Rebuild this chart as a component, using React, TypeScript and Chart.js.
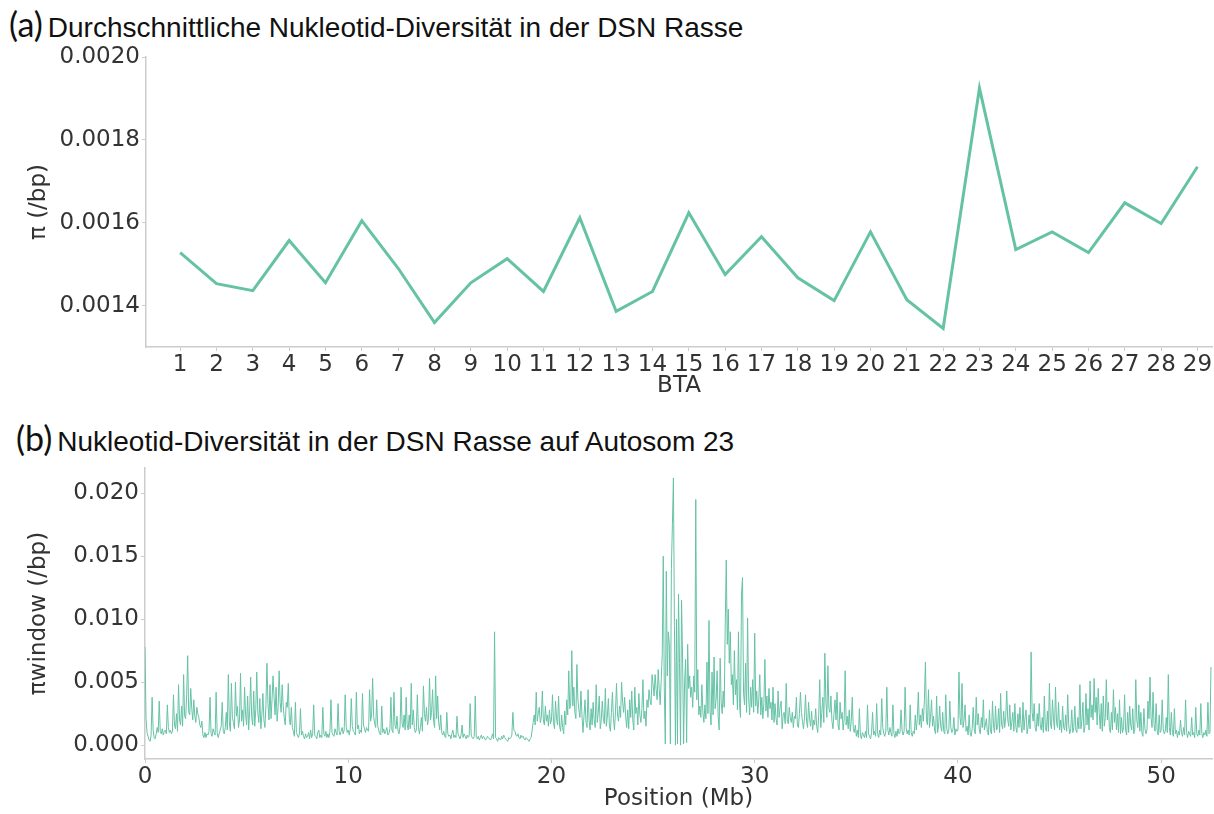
import React, { useEffect, useRef } from "react";
import { Chart, registerables } from "chart.js";

Chart.register(...registerables);

// ---------- Panel (a): mean nucleotide diversity per autosome ----------
const BTA = ["1","2","3","4","5","6","7","8","9","10","11","12","13","14","15","16","17","18","19","20","21","22","23","24","25","26","27","28","29"];
const PI_MEAN = [
  0.001528, 0.001453, 0.001436, 0.001557, 0.001455, 0.001605, 0.001490, 0.001359, 0.001455, 0.001513,
  0.001434, 0.001612, 0.001386, 0.001434, 0.001624, 0.001475, 0.001566, 0.001467, 0.001412, 0.001578,
  0.001414, 0.001345, 0.001925, 0.001535, 0.001578, 0.001528, 0.001648, 0.001598, 0.001735,
];
const TICKS_A = [0.0014, 0.0016, 0.0018, 0.002];

// ---------- Panel (b): windowed diversity along BTA 23 ----------
const WINDOW_MB = 0.05;
// values in units of 0.001 (/bp), one per 0.05 Mb window (one row = 1 Mb)
const PI_WINDOW_PERMILLE = [
  7.8, 2.1, 1.0, 0.7, 0.4, 0.3, 0.8, 3.8, 1.2, 0.6, 0.5, 0.9, 1.4, 1.0, 3.5, 1.1, 0.9, 1.3, 0.8, 1.1,
  1.2, 0.9, 3.2, 1.4, 1.0, 1.2, 0.9, 1.1, 4.0, 1.6, 1.3, 2.5, 1.1, 4.8, 2.0, 1.6, 3.1, 1.5, 5.6, 2.3,
  2.1, 4.0, 7.1, 2.6, 2.4, 4.5, 2.9, 2.0, 3.6, 2.3, 1.8, 3.0, 2.5, 2.2, 1.6, 1.4, 1.9, 0.8, 0.6, 1.0,
  0.6, 0.9, 0.8, 1.1, 3.8, 0.9, 0.7, 1.3, 1.0, 0.8, 4.2, 1.0, 0.6, 0.9, 1.2, 1.5, 3.4, 1.1, 0.9, 1.4,
  2.6, 1.2, 5.6, 1.8, 1.1, 4.9, 2.2, 1.8, 1.3, 5.0, 2.3, 3.1, 1.4, 2.0, 5.7, 1.9, 2.8, 1.5, 4.6, 2.4,
  1.6, 3.9, 1.2, 2.7, 5.4, 2.2, 1.6, 4.3, 1.5, 2.8, 5.8, 2.6, 1.8, 3.7, 1.3, 2.4, 4.1, 2.0, 1.4, 3.2,
  6.5, 3.3, 2.0, 4.8, 2.1, 3.6, 5.5, 3.8, 2.4, 4.6, 1.9, 3.0, 5.9, 3.4, 2.6, 4.8, 3.1, 2.2, 1.6, 3.4,
  3.0, 4.9, 2.1, 1.6, 3.0, 1.4, 1.1, 0.7, 3.4, 1.0, 0.8, 0.6, 0.9, 2.9, 0.8, 1.1, 0.7, 0.5, 0.9, 0.6,
  0.7, 1.0, 0.5, 1.2, 0.6, 0.9, 3.2, 0.8, 0.7, 0.5, 1.0, 1.2, 0.6, 0.8, 0.6, 3.0, 0.9, 0.7, 1.1, 0.6,
  0.9, 0.6, 1.1, 3.6, 1.0, 0.8, 0.7, 1.3, 1.0, 0.8, 3.3, 1.1, 0.8, 1.1, 1.4, 0.9, 1.2, 4.0, 1.5, 1.0,
  1.2, 0.8, 1.3, 3.7, 1.5, 1.1, 1.0, 0.8, 4.2, 1.3, 1.6, 0.9, 1.2, 1.0, 4.1, 1.6, 1.3, 1.0, 1.4, 1.2,
  1.1, 4.4, 1.9, 2.4, 5.3, 2.3, 1.7, 1.4, 3.6, 1.5, 1.2, 0.9, 0.8, 3.1, 1.0, 1.3, 0.9, 1.1, 1.4, 0.8,
  0.9, 1.3, 3.8, 1.2, 1.0, 4.2, 1.6, 1.3, 2.3, 1.1, 0.9, 1.5, 4.6, 1.7, 1.4, 2.4, 1.2, 3.8, 1.6, 1.2,
  2.4, 1.3, 4.9, 1.6, 2.8, 1.4, 1.0, 1.2, 4.0, 1.5, 0.9, 1.4, 2.2, 1.1, 4.7, 2.5, 1.9, 3.0, 1.6, 2.1,
  5.3, 2.0, 2.6, 4.4, 1.9, 1.4, 5.5, 2.1, 3.9, 1.8, 1.2, 2.4, 1.0, 0.8, 1.1, 0.7, 0.6, 2.6, 0.9, 0.7,
  0.8, 0.5, 0.9, 1.2, 0.6, 0.8, 0.6, 2.3, 0.9, 0.7, 0.5, 0.8, 1.6, 0.6, 0.9, 0.7, 0.5, 0.8, 0.6, 0.7,
  3.3, 0.8, 0.6, 0.5, 0.7, 3.9, 0.6, 0.5, 0.7, 0.4, 0.6, 0.8, 0.5, 0.7, 0.6, 0.4, 0.5, 0.7, 0.6, 0.5,
  0.4, 0.6, 0.9, 0.5, 9.0, 0.6, 0.5, 0.3, 0.6, 0.5, 0.4, 0.7, 0.5, 0.8, 0.6, 0.5, 0.4, 0.3, 0.6, 0.5,
  0.6, 0.8, 2.6, 1.2, 1.1, 0.8, 0.7, 0.9, 0.6, 0.5, 0.8, 0.6, 0.7, 0.5, 0.4, 0.6, 0.5, 0.4, 0.3, 0.5,
  0.6, 1.2, 1.8, 2.4, 1.6, 4.2, 1.9, 2.5, 3.0, 1.8, 2.2, 4.3, 2.0, 1.6, 3.1, 1.9, 2.4, 1.5, 2.8, 1.7,
  2.0, 4.0, 1.8, 1.3, 3.5, 2.1, 1.6, 3.9, 1.5, 1.1, 2.4, 1.4, 0.9, 2.7, 1.6, 3.6, 2.4, 5.9, 2.9, 3.4,
  7.5, 3.1, 4.6, 2.6, 2.1, 6.4, 3.6, 2.8, 2.2, 4.3, 2.4, 1.0, 2.3, 3.6, 1.8, 1.4, 4.4, 2.0, 1.2, 2.9,
  1.6, 3.4, 2.0, 1.4, 4.8, 1.8, 2.5, 3.9, 1.3, 2.0, 3.5, 2.1, 1.7, 4.5, 1.5, 2.3, 3.7, 1.6, 1.1, 2.6,
  4.2, 2.1, 1.2, 2.7, 4.9, 2.4, 1.9, 3.1, 2.2, 5.0, 3.4, 2.6, 3.8, 2.3, 1.4, 2.8, 1.3, 3.6, 2.2, 4.3,
  2.0, 1.2, 4.6, 2.5, 3.0, 1.6, 4.1, 2.4, 1.8, 2.9, 5.2, 2.1, 2.7, 1.5, 3.6, 3.0, 4.4, 3.6, 3.2, 5.6,
  4.8, 3.9, 5.6, 4.4, 3.6, 6.0, 4.5, 3.2, 5.2, 7.2, 15.0, 4.6, 0.1, 13.8, 5.5, 9.0, 8.0, 0.1, 14.0, 17.5,
  21.2, 9.5, 0.0, 10.0, 0.1, 12.0, 6.5, 0.0, 11.5, 7.0, 0.1, 5.0, 6.8, 0.2, 8.0, 4.5, 5.5, 3.8, 4.6, 3.0,
  5.5, 4.2, 19.5, 3.6, 6.0, 2.4, 3.1, 2.2, 4.8, 2.6, 1.8, 3.2, 2.1, 6.6, 2.5, 9.9, 2.8, 1.6, 5.8, 2.4,
  7.0, 2.9, 3.6, 5.9, 2.3, 1.2, 6.9, 3.4, 2.5, 4.3, 3.0, 9.6, 14.7, 8.0, 10.8, 6.5, 9.0, 4.8, 5.6, 3.2,
  7.5, 4.0, 5.2, 2.8, 9.0, 3.3, 2.2, 12.0, 13.3, 4.1, 3.2, 6.5, 2.6, 10.1, 3.8, 2.4, 4.6, 3.0, 5.2, 2.6,
  8.9, 3.1, 4.3, 2.5, 3.6, 5.6, 2.4, 3.8, 2.1, 3.3, 6.8, 2.7, 3.9, 2.2, 4.5, 2.9, 3.4, 2.0, 4.6, 1.8,
  3.3, 2.1, 1.6, 4.3, 2.2, 3.0, 3.5, 1.3, 2.4, 2.6, 1.7, 4.9, 2.0, 1.7, 3.0, 2.2, 1.8, 2.6, 1.4, 2.3,
  2.1, 3.8, 1.6, 1.4, 2.5, 4.2, 2.6, 1.9, 1.3, 2.2, 4.0, 1.9, 1.4, 3.4, 2.1, 1.5, 2.7, 1.2, 2.0, 1.6,
  2.9, 1.5, 1.0, 2.4, 5.2, 1.4, 2.6, 3.8, 1.8, 7.3, 3.5, 2.2, 6.3, 2.9, 2.6, 3.9, 1.9, 1.3, 2.5, 3.6,
  2.0, 4.2, 1.6, 1.2, 3.4, 2.1, 2.6, 1.2, 2.0, 5.9, 1.6, 2.3, 1.3, 2.8, 1.1, 1.9, 3.8, 1.3, 1.0, 1.6,
  0.7, 1.2, 0.6, 2.9, 0.8, 0.5, 1.0, 0.8, 0.6, 1.1, 0.6, 3.2, 0.9, 0.7, 0.5, 1.0, 2.6, 0.8, 1.1, 0.7,
  3.3, 0.9, 0.6, 1.2, 0.8, 3.7, 1.4, 0.9, 0.7, 1.1, 4.6, 1.2, 0.8, 1.4, 1.0, 0.7, 3.2, 0.9, 0.6, 1.1,
  0.7, 1.3, 0.9, 1.0, 2.8, 1.2, 0.8, 1.1, 4.6, 1.4, 0.9, 1.2, 0.8, 3.2, 1.0, 0.7, 1.1, 0.9, 2.4, 1.2,
  2.1, 4.2, 1.6, 2.4, 1.4, 2.9, 1.9, 3.6, 6.6, 2.0, 1.6, 4.4, 1.4, 2.2, 3.6, 1.5, 2.3, 1.2, 0.9, 3.9,
  1.0, 1.6, 3.1, 1.5, 1.1, 2.6, 1.1, 0.9, 4.0, 1.3, 0.9, 1.2, 3.5, 1.4, 1.0, 1.2, 2.2, 0.8, 1.3, 1.1,
  1.2, 5.8, 2.2, 1.6, 4.9, 1.4, 2.0, 3.2, 1.1, 1.5, 0.8, 2.4, 1.0, 0.7, 1.3, 3.0, 1.3, 0.9, 3.8, 1.6,
  2.5, 1.2, 0.9, 2.2, 1.4, 3.6, 1.2, 1.6, 2.1, 1.0, 0.8, 2.8, 1.1, 0.9, 3.5, 1.5, 1.0, 3.1, 1.2, 1.4,
  2.9, 1.0, 4.1, 1.6, 1.3, 2.7, 1.4, 2.2, 4.3, 2.0, 1.5, 3.2, 1.2, 1.8, 2.6, 1.1, 3.3, 1.4, 1.0, 2.5,
  1.4, 3.0, 1.6, 1.0, 3.4, 1.2, 2.2, 2.8, 0.9, 1.4, 2.4, 1.3, 7.4, 2.6, 1.9, 3.3, 1.4, 1.1, 2.5, 1.5,
  3.3, 1.6, 1.2, 2.2, 1.0, 3.9, 1.4, 1.1, 2.7, 1.1, 4.9, 1.7, 1.3, 3.6, 2.1, 1.2, 4.6, 1.8, 1.4, 3.4,
  1.2, 2.0, 1.0, 3.1, 1.4, 1.2, 2.4, 1.1, 4.0, 1.6, 0.9, 1.3, 2.8, 1.0, 1.4, 3.1, 1.2, 1.0, 2.2, 1.3,
  4.8, 1.3, 2.0, 3.4, 1.0, 1.5, 4.1, 1.6, 2.9, 1.2, 5.1, 2.2, 3.2, 2.0, 5.3, 2.6, 3.8, 1.6, 4.5, 2.6,
  1.3, 3.3, 1.1, 3.9, 1.5, 2.2, 5.2, 2.0, 3.4, 1.4, 1.0, 2.6, 1.2, 4.4, 1.8, 3.0, 1.2, 2.5, 1.0, 3.6,
  0.9, 2.2, 1.0, 1.4, 4.0, 1.2, 0.8, 2.6, 1.0, 3.1, 1.6, 1.2, 2.9, 0.9, 1.2, 5.2, 2.0, 1.4, 3.2, 1.1,
  2.6, 1.0, 0.7, 2.9, 1.3, 0.9, 1.2, 3.5, 2.1, 5.4, 2.2, 1.4, 4.2, 1.6, 1.1, 3.3, 1.2, 0.8, 2.4, 1.0,
  1.2, 3.6, 1.3, 0.9, 1.1, 2.2, 1.0, 5.6, 1.4, 0.8, 2.6, 1.0, 0.7, 2.9, 0.9, 1.2, 0.6, 1.1, 0.8, 2.0,
  1.0, 0.7, 1.4, 0.8, 3.6, 1.0, 0.6, 1.1, 0.9, 0.7, 2.2, 0.8, 1.0, 0.6, 3.0, 0.9, 0.7, 1.2, 0.8, 3.3,
  0.9, 0.6, 1.0, 0.8, 1.2, 0.7, 3.4, 0.9, 1.0, 6.2,
];
const POS_TICKS = [0, 10, 20, 30, 40, 50];
const TICKS_B = [0, 0.005, 0.01, 0.015, 0.02];

const LINE_COLOR = "#66c2a5";
const TEXT_COLOR = "#333333";
const AXIS_COLOR = "#cccccc";
const TICK_FONT = { family: "'DejaVu Sans', sans-serif", size: 23 };

function axisCommon() {
  return {
    grid: { drawOnChartArea: false, drawTicks: true, tickLength: 4, color: AXIS_COLOR, lineWidth: 1 },
    border: { display: true, color: AXIS_COLOR, width: 1.5 },
  };
}

function ChartA() {
  const ref = useRef<HTMLCanvasElement | null>(null);
  useEffect(() => {
    const chart = new Chart(ref.current as HTMLCanvasElement, {
      type: "line",
      data: {
        datasets: [
          {
            data: BTA.map((b, i) => ({ x: Number(b), y: PI_MEAN[i] })),
            borderColor: LINE_COLOR,
            borderWidth: 3,
            pointRadius: 0,
            tension: 0,
          },
        ],
      },
      options: {
        animation: false,
        responsive: false,
        devicePixelRatio: 1,
        layout: { padding: { top: 17, right: 2, left: 0, bottom: 0 } },
        plugins: { legend: { display: false }, tooltip: { enabled: false }, title: { display: false } },
        scales: {
          x: {
            type: "linear",
            min: 0.06,
            max: 29.4,
            ...axisCommon(),
            afterBuildTicks: (s: any) => { s.ticks = BTA.map((b) => ({ value: Number(b) })); },
            afterFit: (s: any) => { s.height = 53; },
            ticks: { autoSkip: false, maxRotation: 0, padding: 0, color: TEXT_COLOR, font: TICK_FONT, callback: (v: any) => String(v) },
            title: { display: true, text: "BTA", color: TEXT_COLOR, font: TICK_FONT, padding: { top: 0, bottom: 0 } },
          },
          y: {
            type: "linear",
            min: 0.0013,
            max: 0.002,
            ...axisCommon(),
            afterBuildTicks: (s: any) => { s.ticks = TICKS_A.map((v) => ({ value: v })); },
            afterFit: (s: any) => { s.width = 146; },
            ticks: { padding: 2, color: TEXT_COLOR, font: TICK_FONT, callback: (v: any) => Number(v).toFixed(4) },
            title: { display: true, text: "π (/bp)", color: TEXT_COLOR, font: TICK_FONT, padding: { top: 25, bottom: 0 } },
          },
        },
      } as any,
    });
    return () => chart.destroy();
  }, []);
  return <canvas ref={ref} width={1214} height={360} style={{ position: "absolute", left: 0, top: 40 }} />;
}

function ChartB() {
  const ref = useRef<HTMLCanvasElement | null>(null);
  useEffect(() => {
    const chart = new Chart(ref.current as HTMLCanvasElement, {
      type: "line",
      data: {
        datasets: [
          {
            data: PI_WINDOW_PERMILLE.map((v, i) => ({ x: i * WINDOW_MB, y: v / 1000 })),
            borderColor: LINE_COLOR,
            borderWidth: 1,
            pointRadius: 0,
            tension: 0,
          },
        ],
      },
      options: {
        animation: false,
        responsive: false,
        devicePixelRatio: 1,
        layout: { padding: { top: 18, right: 2, left: 0, bottom: 0 } },
        plugins: { legend: { display: false }, tooltip: { enabled: false }, title: { display: false } },
        scales: {
          x: {
            type: "linear",
            min: 0,
            max: 52.5,
            ...axisCommon(),
            afterBuildTicks: (s: any) => { s.ticks = POS_TICKS.map((v) => ({ value: v })); },
            afterFit: (s: any) => { s.height = 55; },
            ticks: { autoSkip: false, maxRotation: 0, padding: 0, color: TEXT_COLOR, font: TICK_FONT, callback: (v: any) => String(v) },
            title: { display: true, text: "Position (Mb)", color: TEXT_COLOR, font: TICK_FONT, padding: { top: 0, bottom: 1 } },
          },
          y: {
            type: "linear",
            min: -0.0011,
            max: 0.022,
            ...axisCommon(),
            afterBuildTicks: (s: any) => { s.ticks = TICKS_B.map((v) => ({ value: v })); },
            afterFit: (s: any) => { s.width = 145; },
            ticks: { padding: 2, color: TEXT_COLOR, font: TICK_FONT, callback: (v: any) => Number(v).toFixed(3) },
            title: { display: true, text: "πwindow (/bp)", color: TEXT_COLOR, font: TICK_FONT, padding: { top: 25, bottom: 0 } },
          },
        },
      } as any,
    });
    return () => chart.destroy();
  }, []);
  return <canvas ref={ref} width={1214} height={364} style={{ position: "absolute", left: 0, top: 450 }} />;
}

const labelStyle: React.CSSProperties = {
  fontFamily: "Lato, 'Open Sans', sans-serif",
  fontSize: 34,
  color: "#111",
  marginRight: 5,
};
const titleStyle: React.CSSProperties = {
  fontFamily: "'Liberation Sans', Arial, sans-serif",
  fontSize: 28,
  color: "#111",
};

export default function App() {
  return (
    <div style={{ position: "absolute", left: 0, top: 0, width: 1214, height: 814, background: "#fff", overflow: "hidden" }}>
      <div style={{ position: "absolute", left: 9, top: 3, lineHeight: "42px", whiteSpace: "nowrap" }}>
        <span style={labelStyle}>(a)</span>
        <span style={titleStyle}>Durchschnittliche Nukleotid-Diversität in der DSN Rasse</span>
      </div>
      <ChartA />
      <div style={{ position: "absolute", left: 16, top: 417, lineHeight: "42px", whiteSpace: "nowrap" }}>
        <span style={labelStyle}>(b)</span>
        <span style={titleStyle}>Nukleotid-Diversität in der DSN Rasse auf Autosom 23</span>
      </div>
      <ChartB />
    </div>
  );
}
